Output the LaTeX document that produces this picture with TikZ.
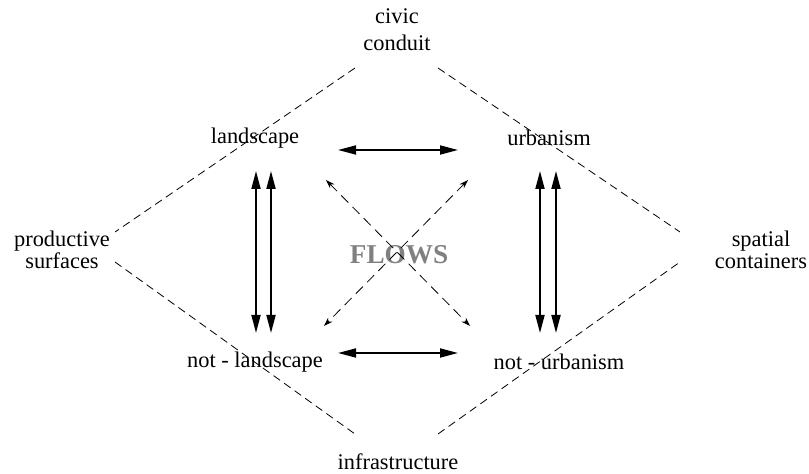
\documentclass[tikz,border=0pt]{standalone}
\usepackage{fontspec}
\setmainfont{Liberation Serif}
\usetikzlibrary{arrows.meta}
\usetikzlibrary{calc}

\begin{document}
\begin{tikzpicture}[x=0.5pt,y=-0.5pt,font=\fontsize{11.2}{13.5}\selectfont,
	word/.style={inner sep=1pt,align=center},
	edge/.style={line width=0.4pt,dash pattern=on 4pt off 2.5pt},
	link/.style={line width=0.9pt,{Triangle[length=9pt,width=4.5pt]}-{Triangle[length=9pt,width=4.5pt]}},
	flow/.style={line width=0.4pt,dash pattern=on 5pt off 3pt,{Stealth[length=4.5pt,width=3pt]}-{Stealth[length=4.5pt,width=3pt]}}]
					\useasboundingbox (0,0) rectangle (809,474);
					% outer labels
					\node[word] (civic) at (397,30) {civic\\conduit};
					\node[word] (prod) at (62,250) {productive\\[-2.8pt]surfaces};
					\node[word] (spat) at (761,250) {spatial\\[-2.8pt]containers};
					\node[word] (infra) at (398,462) {infrastructure};
					% inner labels
					\node[word] (land) at (255,138) {landscape};
					\node[word] (urb) at (549,138) {urbanism};
					\node[word] (notland) at (255,362) {not - landscape};
					\node[word] (noturb) at (559,362) {not - urbanism};
					\node[text=gray,font=\bfseries\fontsize{13.6}{16}\selectfont] (flows) at (399,255) {FLOWS};
					% dashed diamond
					\foreach \name/\x/\y in {nwa/355/68, nwb/115/232, nea/438/68, neb/680/232,
						swa/115/262, swb/355/434, sea/438/434, seb/680/262} {
						\coordinate (\name) at (\x,\y);
					}
					\foreach \a/\b in {nwa/nwb, nea/neb, swa/swb, sea/seb} {
						\draw[edge] (\a) -- (\b);
					}
					% horizontal links
					\foreach \row/\y in {up/150, down/353} {
						\coordinate (\row l) at (338,\y);
						\coordinate (\row r) at (458,\y);
						\draw[link] (\row l) -- (\row r);
					}
					% vertical links
					\foreach \col/\x in {a/256, b/271, c/540, d/556} {
						\coordinate (\col t) at (\x,171);
						\coordinate (\col b) at (\x,333);
						\draw[link] (\col t) -- (\col b);
					}
					% crossing flows
					\coordinate (xa) at (326,180);
					\coordinate (xb) at (470,326);
					\coordinate (xc) at (468,180);
					\coordinate (xd) at (324,326);
					\draw[flow] (xa) -- (xb);
					\draw[flow] (xc) -- (xd);
				\end{tikzpicture}
\end{document}
